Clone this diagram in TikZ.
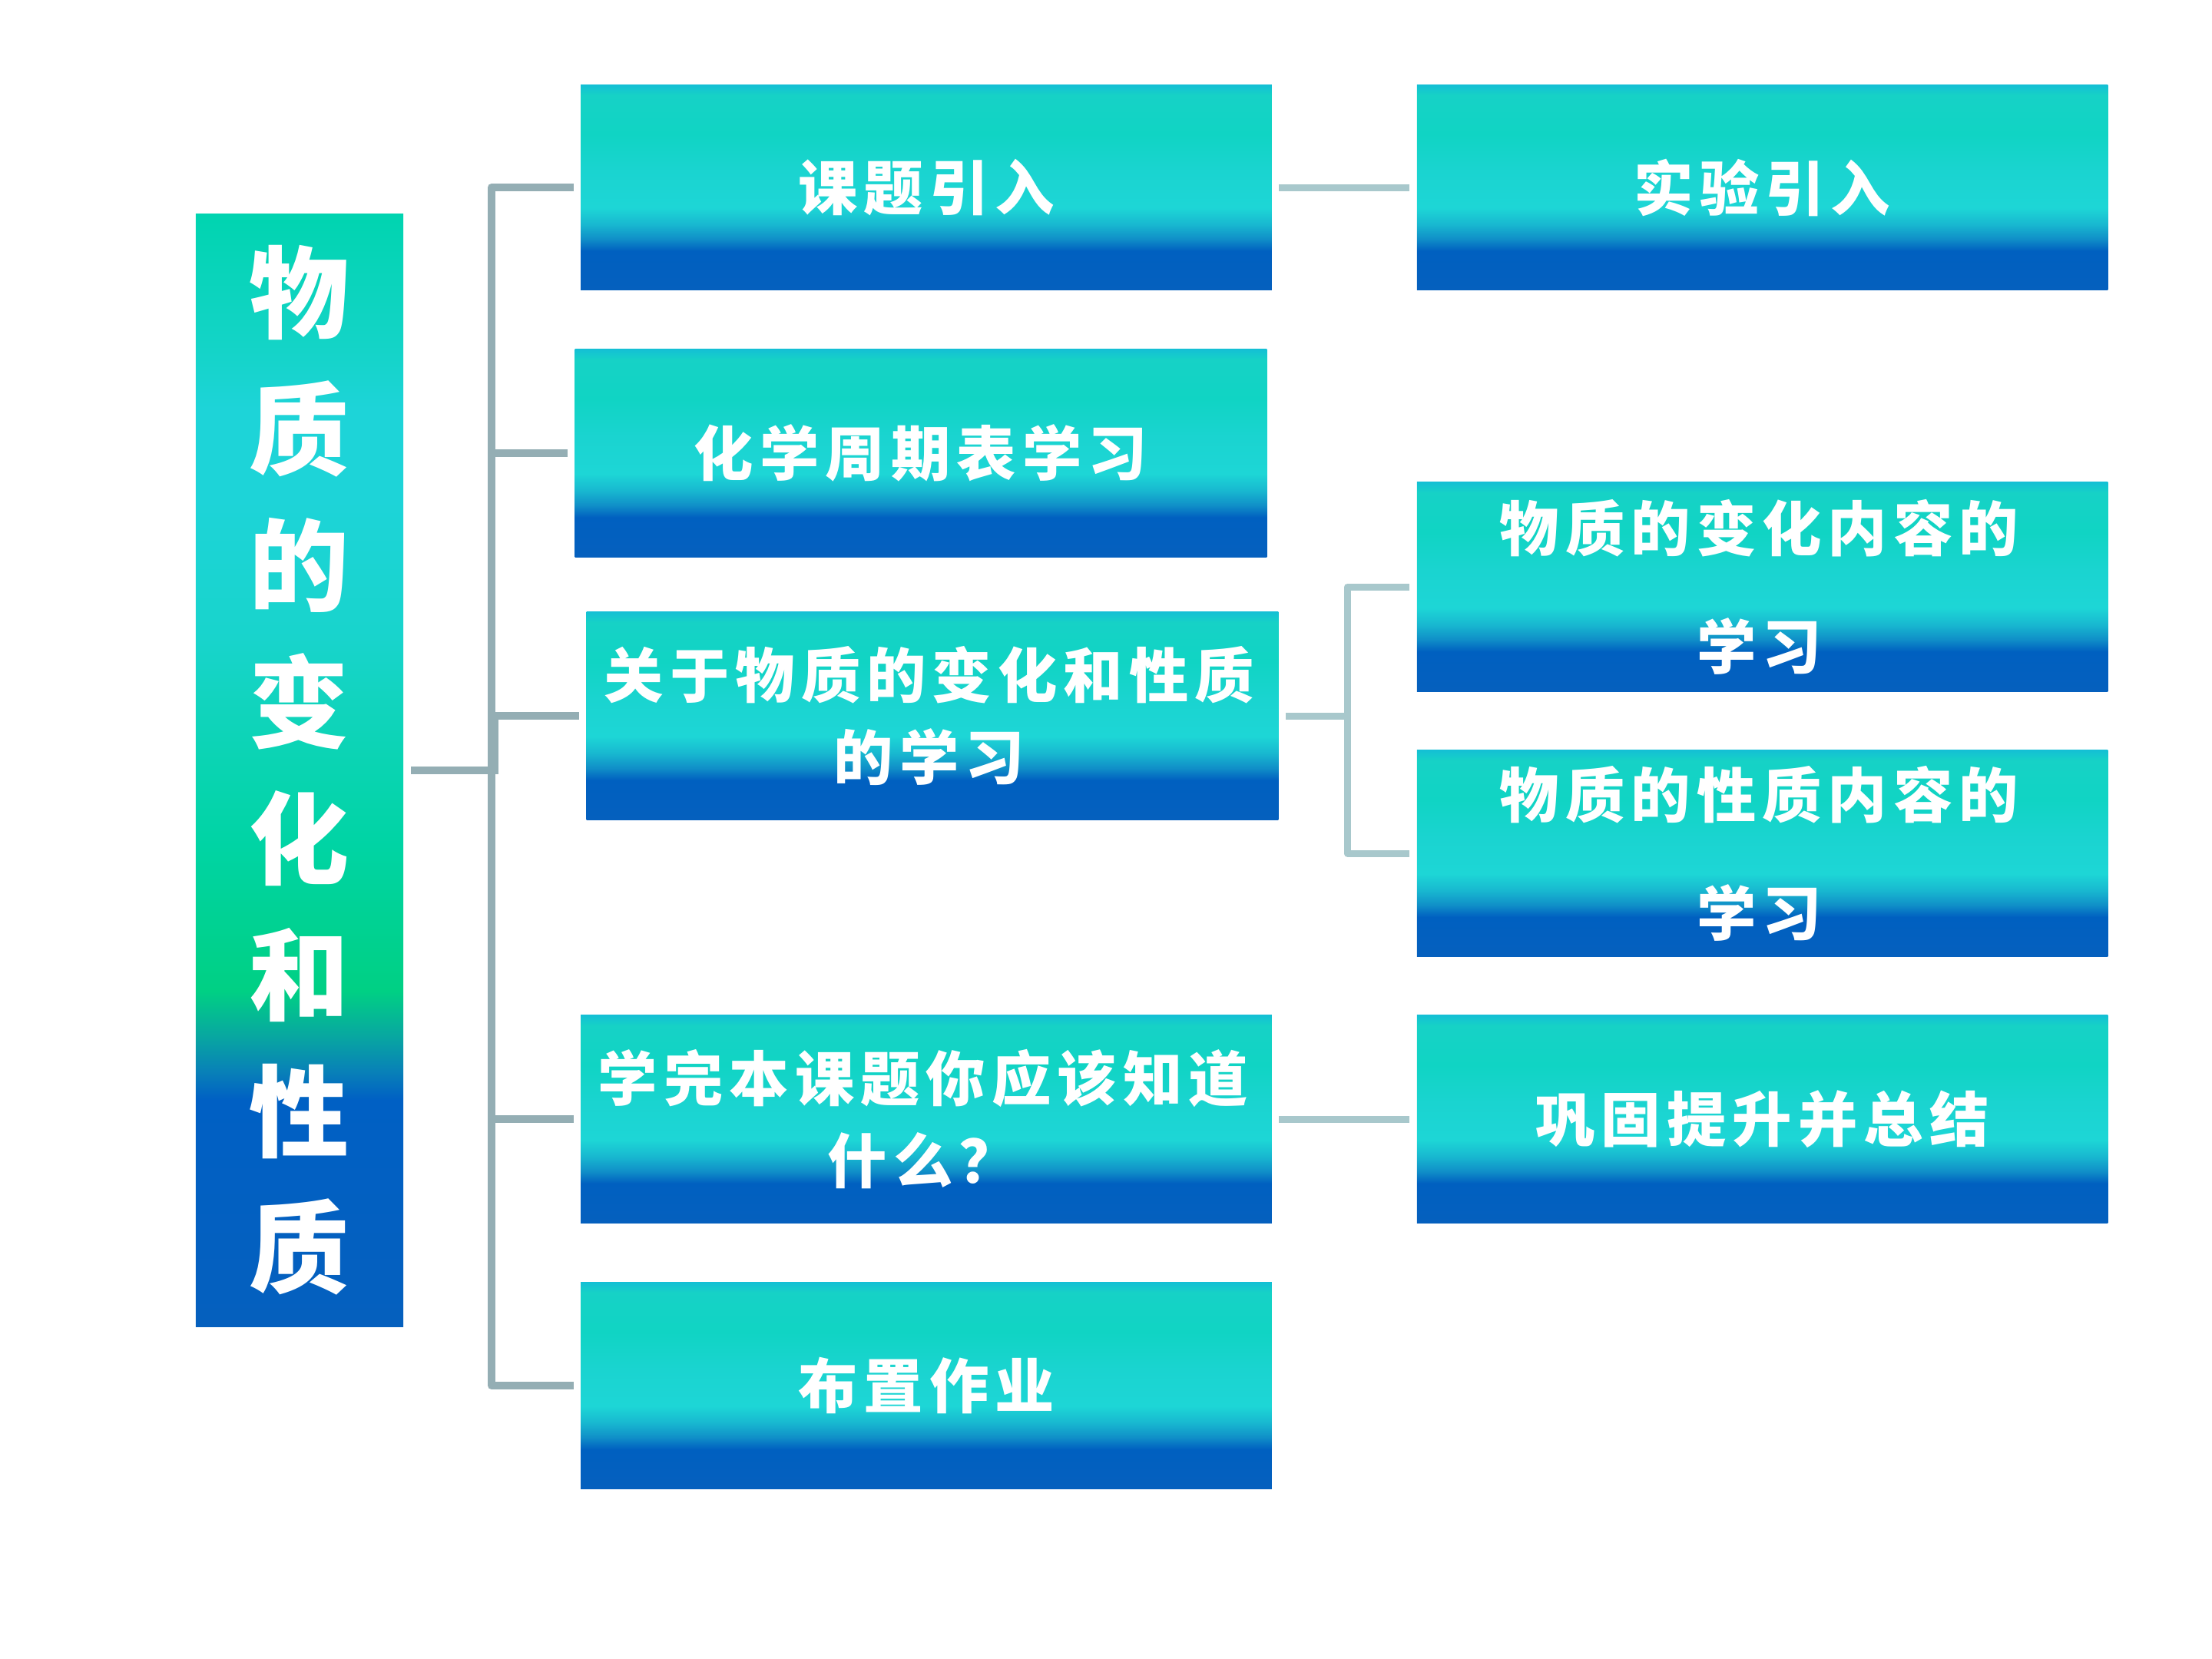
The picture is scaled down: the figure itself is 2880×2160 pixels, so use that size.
\documentclass[tikz,border=0pt]{standalone}
\usepackage{fontspec}
\newfontfamily\cjk{Noto Sans CJK SC}
\newlength\cjkgap
\setlength\cjkgap{2.3pt}
\def\spaced#1{\spacedaux#1\relax\hskip-\cjkgap}
\def\spacedaux#1{\ifx#1\relax\else#1\hskip\cjkgap\expandafter\spacedaux\fi}
\definecolor{bA}{HTML}{0560BE}
\definecolor{bB}{HTML}{0060C0}
\definecolor{bC}{HTML}{1090C8}
\definecolor{bD}{HTML}{18B8D0}
\definecolor{bE}{HTML}{1DD6D6}
\definecolor{bF}{HTML}{1AD4D0}
\definecolor{bG}{HTML}{10D4C4}
\definecolor{bH}{HTML}{16D2C6}
\definecolor{bI}{HTML}{14C0D4}
\definecolor{rA}{HTML}{0560BE}
\definecolor{rB}{HTML}{0060C4}
\definecolor{rC}{HTML}{0880B8}
\definecolor{rD}{HTML}{08A8A0}
\definecolor{rE}{HTML}{00D084}
\definecolor{rF}{HTML}{00D4A4}
\definecolor{rG}{HTML}{10D4BC}
\definecolor{rH}{HTML}{18D4CC}
\definecolor{rI}{HTML}{1DD4D8}
\definecolor{rJ}{HTML}{14D4C8}
\definecolor{rK}{HTML}{00D4B0}
\definecolor{connA}{HTML}{94AEB4}
\definecolor{connB}{HTML}{A8C8CC}
\pgfdeclareverticalshading{boxshade}{100bp}{color(0bp)=(bA); color(25bp)=(bA); color(34.5bp)=(bB); color(37.5bp)=(bC); color(41bp)=(bD); color(45bp)=(bE); color(54bp)=(bF); color(63bp)=(bG); color(72.5bp)=(bH); color(75bp)=(bI); color(100bp)=(bI)}
\pgfdeclareverticalshading{rootshade}{100bp}{color(0bp)=(rA); color(25bp)=(rA); color(35.2bp)=(rB); color(36.45bp)=(rC); color(38.1bp)=(rD); color(40.1bp)=(rE); color(46.65bp)=(rF); color(52.65bp)=(rG); color(55.9bp)=(rH); color(62.2bp)=(rI); color(66.25bp)=(rI); color(68.85bp)=(rJ); color(75bp)=(rK); color(100bp)=(rK)}
\begin{document}
\begin{tikzpicture}[x=0.01cm,y=-0.01cm,
  box/.style={shading=boxshade, inner sep=0pt, minimum width=8.99cm, minimum height=2.7cm, text=white, align=center, font=\cjk\bfseries\fontsize{22}{30.4}\selectfont},
  boxtall/.style={box, font=\cjk\bfseries\fontsize{22}{43.8}\selectfont},
  rootbox/.style={shading=rootshade, inner sep=0pt, minimum width=2.7cm, minimum height=14.48cm, text=white, align=center, font=\cjk\bfseries\fontsize{37}{50.5}\selectfont},
  conn/.style={draw=connA, line width=0.1cm, line join=round},
  connr/.style={draw=connB, line width=0.09cm, line join=round}]
\useasboundingbox (0,0) rectangle (2880,2160);
\node[rootbox] (root) at (390,1003) {物\\质\\的\\变\\化\\和\\性\\质};
\node[box, minimum height=2.66cm] (b1) at (1206,244) {\spaced{课题引入}};
\node[box, minimum width=9.0cm] (b2) at (1199,590) {\spaced{化学周期表学习}};
\node[box, minimum width=9.0cm] (b3) at (1214,932) {\spaced{关于物质的变化和性质}\\\spaced{的学习}};
\node[box] (b4) at (1206,1457) {\spaced{学完本课题你应该知道}\\\spaced{什么？}};
\node[box, minimum height=2.68cm] (b5) at (1206,1804) {\spaced{布置作业}};
\node[box, minimum height=2.66cm] (r1) at (2294.5,244) {\spaced{实验引入}};
\node[boxtall, minimum height=2.72cm] (r2) at (2294.5,764) {\spaced{物质的变化内容的}\\\spaced{学习}};
\node[boxtall, minimum height=2.68cm] (r3) at (2294.5,1111) {\spaced{物质的性质内容的}\\\spaced{学习}};
\node[box] (r4) at (2294.5,1457) {\spaced{巩固提升并总结}};
\coordinate (tr) at (640,0);
\coordinate (tk) at (644,0);
\coordinate (rx) at (1754,0);
% left tree
\draw[conn] ([xshift=-0.09cm]b1.west) -| (tr |- b5.west) -- ([xshift=-0.09cm]b5.west);
\draw[conn] (tr |- b2.west) -- ([xshift=-0.09cm]b2.west);
\draw[conn] (tk |- b3.west) -- ([xshift=-0.09cm]b3.west);
\draw[conn] (tk |- b3.west) -- ([yshift=-0.04cm]tk |- root.east);
\draw[conn] ([xshift=0.09cm]root.east) -- ([xshift=0.05cm]tk |- root.east);
\draw[conn] (tr |- b4.west) -- ([xshift=-0.09cm]b4.west);
% right connectors
\draw[connr] ([xshift=0.09cm]b1.east) -- ([xshift=-0.09cm]r1.west);
\draw[connr] ([xshift=0.09cm]b3.east) -- (rx |- b3.east);
\draw[connr] ([xshift=-0.09cm]r2.west) -| (rx |- r3.west) -- ([xshift=-0.09cm]r3.west);
\draw[connr] ([xshift=0.09cm]b4.east) -- ([xshift=-0.09cm]r4.west);
\end{tikzpicture}
\end{document}
